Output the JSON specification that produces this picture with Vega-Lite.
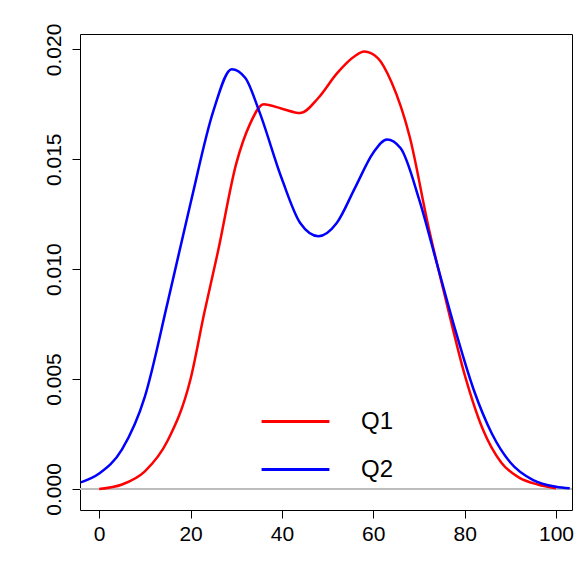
{
  "$schema": "https://vega.github.io/schema/vega-lite/v6.json",
  "width": 492,
  "height": 476,
  "autosize": "none",
  "padding": {"left": 80, "top": 34, "right": 9, "bottom": 66},
  "background": "white",
  "view": {"stroke": "black", "strokeWidth": 1},
  "config": {"font": "Liberation Sans"},
  "data": {
    "values": [
      {"s": "Q1", "x": 0, "y": 0.0},
      {"s": "Q1", "x": 5, "y": 0.0002},
      {"s": "Q1", "x": 10, "y": 0.0008},
      {"s": "Q1", "x": 15, "y": 0.0022},
      {"s": "Q1", "x": 20, "y": 0.005},
      {"s": "Q1", "x": 23, "y": 0.008},
      {"s": "Q1", "x": 26, "y": 0.0108},
      {"s": "Q1", "x": 30, "y": 0.0148},
      {"s": "Q1", "x": 33, "y": 0.0166},
      {"s": "Q1", "x": 36, "y": 0.0175},
      {"s": "Q1", "x": 40, "y": 0.0173},
      {"s": "Q1", "x": 44, "y": 0.0171},
      {"s": "Q1", "x": 48, "y": 0.0178},
      {"s": "Q1", "x": 52, "y": 0.0189},
      {"s": "Q1", "x": 56, "y": 0.0197},
      {"s": "Q1", "x": 58, "y": 0.0199},
      {"s": "Q1", "x": 61, "y": 0.0196},
      {"s": "Q1", "x": 64, "y": 0.0185},
      {"s": "Q1", "x": 68, "y": 0.016},
      {"s": "Q1", "x": 72, "y": 0.012},
      {"s": "Q1", "x": 76, "y": 0.0085},
      {"s": "Q1", "x": 80, "y": 0.0052},
      {"s": "Q1", "x": 84, "y": 0.0027},
      {"s": "Q1", "x": 88, "y": 0.0012},
      {"s": "Q1", "x": 92, "y": 0.0005},
      {"s": "Q1", "x": 96, "y": 0.0002},
      {"s": "Q1", "x": 100, "y": 0.00003},
      {"s": "Q2", "x": -4, "y": 0.0003},
      {"s": "Q2", "x": 0, "y": 0.0007},
      {"s": "Q2", "x": 5, "y": 0.0018},
      {"s": "Q2", "x": 10, "y": 0.0042},
      {"s": "Q2", "x": 15, "y": 0.0085},
      {"s": "Q2", "x": 20, "y": 0.013},
      {"s": "Q2", "x": 25, "y": 0.0172},
      {"s": "Q2", "x": 29, "y": 0.0191},
      {"s": "Q2", "x": 32, "y": 0.0187},
      {"s": "Q2", "x": 35, "y": 0.0172},
      {"s": "Q2", "x": 40, "y": 0.0141},
      {"s": "Q2", "x": 44, "y": 0.0121},
      {"s": "Q2", "x": 48, "y": 0.0115},
      {"s": "Q2", "x": 52, "y": 0.0121},
      {"s": "Q2", "x": 56, "y": 0.0137},
      {"s": "Q2", "x": 60, "y": 0.0153},
      {"s": "Q2", "x": 63, "y": 0.0159},
      {"s": "Q2", "x": 66, "y": 0.0155},
      {"s": "Q2", "x": 70, "y": 0.0132},
      {"s": "Q2", "x": 74, "y": 0.0102},
      {"s": "Q2", "x": 78, "y": 0.0072},
      {"s": "Q2", "x": 82, "y": 0.0045},
      {"s": "Q2", "x": 86, "y": 0.0025},
      {"s": "Q2", "x": 90, "y": 0.0012},
      {"s": "Q2", "x": 95, "y": 0.0004},
      {"s": "Q2", "x": 100, "y": 0.0001},
      {"s": "Q2", "x": 103, "y": 0.00003}
    ]
  },
  "layer": [
    {
      "mark": {"type": "rule", "color": "#bebebe", "strokeWidth": 1},
      "encoding": {"y": {"datum": 0, "type": "quantitative"}}
    },
    {
      "mark": {"type": "line", "strokeWidth": 2.5, "interpolate": "monotone", "clip": true},
      "encoding": {
        "x": {
          "field": "x", "type": "quantitative",
          "scale": {"domain": [-4.2, 103.5], "nice": false, "zero": false},
          "axis": {"title": null, "values": [0, 20, 40, 60, 80, 100], "grid": false, "domain": false,
                   "tickColor": "black", "tickSize": 8, "labelFontSize": 21, "labelColor": "black", "labelPadding": 5}
        },
        "y": {
          "field": "y", "type": "quantitative",
          "scale": {"domain": [-0.00096, 0.0207], "nice": false, "zero": false},
          "axis": {"title": null, "values": [0, 0.005, 0.01, 0.015, 0.02], "format": ".3f", "grid": false, "domain": false,
                   "tickColor": "black", "tickSize": 8, "labelFontSize": 21, "labelColor": "black",
                   "labelAngle": -90, "labelAlign": "center", "labelBaseline": "bottom", "labelPadding": 8}
        },
        "color": {
          "field": "s", "type": "nominal",
          "scale": {"domain": ["Q1", "Q2"], "range": ["#ff0000", "#0000ff"]},
          "legend": {"title": null, "orient": "none", "legendX": 180, "legendY": 352,
                     "symbolType": "stroke", "symbolStrokeWidth": 3, "symbolSize": 4600,
                     "labelFontSize": 24, "labelColor": "black", "rowPadding": -29, "labelOffset": 30}
        }
      }
    }
  ]
}
